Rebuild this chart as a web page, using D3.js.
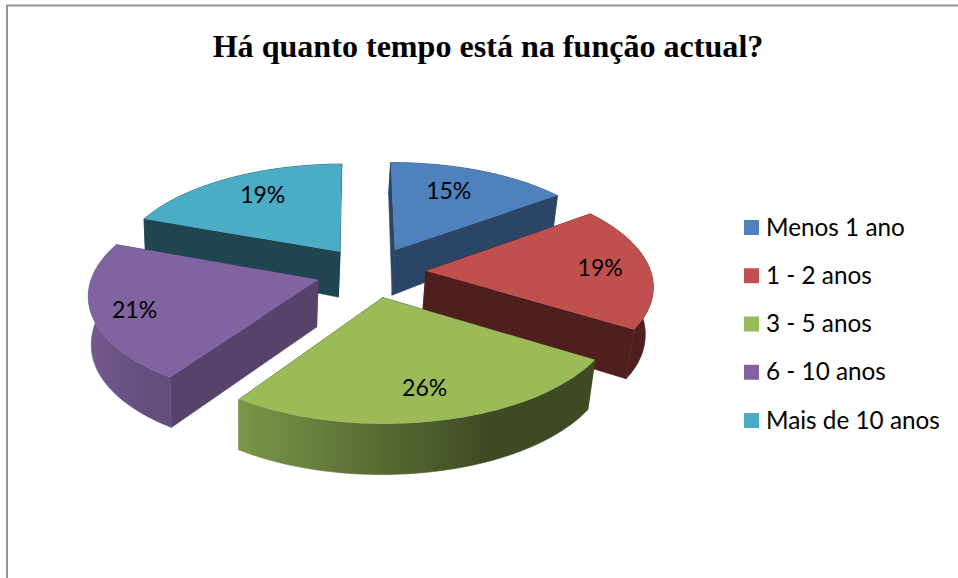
<!DOCTYPE html>
<html lang="pt">
<head>
<meta charset="utf-8">
<style>
html,body{margin:0;padding:0;background:#fff;}
svg{display:block;}
</style>
<script src="https://cdn.jsdelivr.net/npm/d3@7"></script>
</head>
<body>
<svg id="chart" width="958" height="578"></svg>
<script>
const chartTitle = "Há quanto tempo está na função actual?";
const categories = ["Menos 1 ano", "1 - 2 anos", "3 - 5 anos", "6 - 10 anos", "Mais de 10 anos"];
const values = [15, 19, 25.6, 21.2, 19.2];
const topColors = ["#4f81bd", "#c0504d", "#9bbb59", "#8064a2", "#4bacc6"];
const faceColors = ["#2a4565", "#4f1f1e", "#3f4b23", "#57426b", "#1f4551"];
const wallStart = ["#2a4565", "#4f1f1e", "#7a9648", "#74598f", "#1f4551"];
const wallEnd = ["#2a4565", "#4f1f1e", "#3e4a23", "#644e7e", "#1f4551"];
const labelRadius = [0.70, 0.78, 0.76, 0.82, 0.735];
const labelShift = [-3.5, 0, 0, -2, 3];

const W = 958, H = 578;
const cx = 371, cy = 272, R = 225, explode = 55;
const tilt = 0.46, camera = 1800, startDeg = -0.5;
// wall height grows towards the viewer
const wallHeight = d3.scaleLinear().domain([0.86, 0.97, 1.04, 1.2]).range([31, 45, 49, 51]).clamp(true);

const svg = d3.select("#chart");
const defs = svg.append("defs");

svg.append("path").attr("d", `M7 ${H}V5.5H${W}`)
  .attr("fill", "none").attr("stroke", "#949494").attr("stroke-width", 2);

svg.append("text").attr("x", 488).attr("y", 57).attr("text-anchor", "middle")
  .attr("font-family", "'Liberation Serif', serif").attr("font-weight", "bold")
  .attr("font-size", 32.1).attr("fill", "#000").text(chartTitle);

const toRad = d3.scaleLinear().domain([0, 360]).range([0, 2 * Math.PI]);
const pie = d3.pie().sort(null).value(d => d)
  .startAngle(toRad(startDeg)).endAngle(toRad(startDeg + 360));
const arcs = pie(values).map((a, i) => ({...a, i, mid: (a.startAngle + a.endAngle) / 2}));

function project(a, theta, r, lower) {
  const X = explode * Math.sin(a.mid) + r * Math.sin(theta);
  const Y = -explode * Math.cos(a.mid) - r * Math.cos(theta);
  const s = camera / (camera - Y);
  const h = lower ? wallHeight(s) : 0;
  const xs = X * s;
  return [cx + xs - (xs + 130) * h / 2450, cy + Y * tilt * s + h];
}
const line = d3.line();
const rim = (a, lower) => d3.range(0, 49).map(k => {
  const t = a.startAngle + (a.endAngle - a.startAngle) * k / 48;
  return project(a, t, R, lower);
});

// painter's order: far slices first
const order = [4, 0, 1, 3, 2];
order.forEach(i => {
  const a = arcs[i];
  const g = svg.append("g");
  const apexT = project(a, 0, 0, false), apexB = project(a, 0, 0, true);
  [a.startAngle, a.endAngle].forEach(t => {
    const face = [apexT, project(a, t, R, false), project(a, t, R, true), apexB];
    g.append("path").attr("d", line(face) + "Z").attr("fill", faceColors[i])
      .attr("stroke", faceColors[i]).attr("stroke-width", 0.6);
  });
  const top = rim(a, false), bottom = rim(a, true);
  const xs = top.concat(bottom).map(p => p[0]);
  const gid = "wall" + i;
  const lg = defs.append("linearGradient").attr("id", gid)
    .attr("gradientUnits", "userSpaceOnUse")
    .attr("x1", d3.min(xs)).attr("x2", d3.min(xs) + (d3.max(xs) - d3.min(xs)) * 0.7)
    .attr("y1", 0).attr("y2", 0);
  lg.append("stop").attr("offset", 0).attr("stop-color", wallStart[i]);
  lg.append("stop").attr("offset", 1).attr("stop-color", wallEnd[i]);
  g.append("path").attr("d", line(top.concat(bottom.slice().reverse())) + "Z")
    .attr("fill", `url(#${gid})`).attr("stroke", `url(#${gid})`).attr("stroke-width", 0.6);
  g.append("path").attr("d", line([apexT].concat(top)) + "Z").attr("fill", topColors[i]);
});

const labelFont = "Lato, 'Noto Sans', sans-serif";
const total = d3.sum(values);
arcs.forEach(a => {
  const p = project(a, a.mid + toRad(labelShift[a.i]), R * labelRadius[a.i], false);
  svg.append("text").attr("x", p[0]).attr("y", p[1] + 8).attr("text-anchor", "middle")
    .attr("font-family", labelFont).attr("font-size", 23).attr("fill", "#000")
    .text(Math.round(a.value / total * 100) + "%");
});

const legendY = d3.scalePoint().domain(categories).range([227.5, 420.5]);
categories.forEach((c, i) => {
  const y = legendY(c);
  svg.append("rect").attr("x", 744).attr("y", y - 7.5).attr("width", 15).attr("height", 15)
    .attr("fill", topColors[i]);
  svg.append("text").attr("x", 766).attr("y", y + 8)
    .attr("font-family", labelFont).attr("font-size", 24.3).attr("fill", "#000").text(c);
});
</script>
</body>
</html>
